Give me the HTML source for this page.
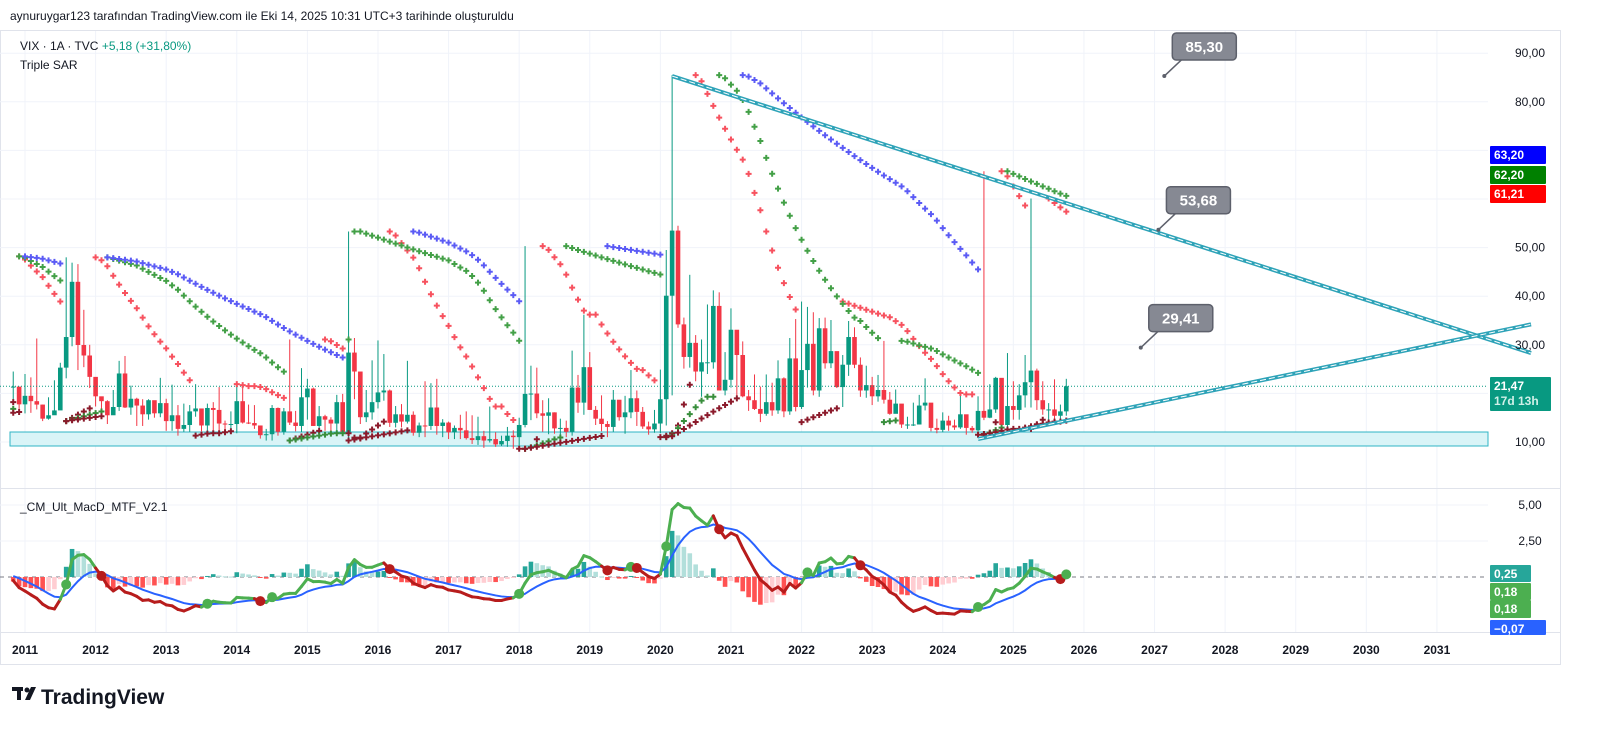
<!DOCTYPE html>
<html><head><meta charset="utf-8"><style>
html,body{margin:0;padding:0;background:#fff;width:1600px;height:745px;overflow:hidden;font-family:"Liberation Sans",sans-serif}
svg text{font-family:"Liberation Sans",sans-serif}
</style></head><body>
<svg id="c" width="1600" height="745" viewBox="0 0 1600 745" xmlns="http://www.w3.org/2000/svg">
<text x="10" y="20" font-size="12" fill="#131722">aynuruygar123 tarafından TradingView.com ile Eki 14, 2025 10:31 UTC+3 tarihinde oluşturuldu</text>
<rect x="0.5" y="30.5" width="1560" height="634" fill="none" stroke="#e0e3eb"/>
<g id="grid"></g>
<line x1="0" y1="488.5" x2="1560" y2="488.5" stroke="#e0e3eb"/>
<line x1="0" y1="632.5" x2="1560" y2="632.5" stroke="#e0e3eb"/>
<rect x="10" y="432" width="1478" height="14" fill="#d9f4f7" stroke="#30b5c4" stroke-width="1"/>
<g id="candles"></g>
<g id="sar"></g>
<g id="draw"></g>
<g id="macd"></g>
<g id="axes"></g>
<text x="20" y="50" font-size="12" fill="#131722">VIX · 1A · TVC <tspan fill="#089981">+5,18 (+31,80%)</tspan></text>
<text x="20" y="69" font-size="12" fill="#131722">Triple SAR</text>
<text x="20" y="511" font-size="12" fill="#131722">_CM_Ult_MacD_MTF_V2.1</text>
<g>
<rect x="12" y="687" width="11" height="4" fill="#131722"/><rect x="17" y="687" width="4" height="13" fill="#131722"/>
<circle cx="27" cy="690" r="2.5" fill="#131722"/><polygon points="31,687 36,687 30,700 25,700" fill="#131722"/>
<text x="41" y="704" font-size="21" font-weight="bold" fill="#131722">TradingView</text>
</g>
</svg>
<script>
// Monthly data from Jan 2009 (index 0) to Oct 2025
const closes=[44.4,46.4,44.1,36.5,28.9,26.4,25.9,26.0,25.6,30.7,24.5,21.7,
24.6,19.5,17.6,22.05,32.1,34.5,23.5,26.05,23.7,21.2,21.4,17.75,
19.5,18.4,17.7,14.8,15.5,16.5,25.3,31.6,42.96,29.96,27.8,23.4,
19.4,18.4,15.5,17.2,24.1,17.1,18.9,17.5,15.7,18.6,15.9,18.0,
14.3,15.5,12.7,13.5,16.3,16.9,13.4,17.0,16.6,13.8,13.7,13.7,
18.4,14.0,13.9,13.4,11.4,11.6,17.0,12.1,16.3,14.0,13.3,19.2,
21.0,13.3,15.3,14.6,13.8,18.2,12.1,28.4,24.5,15.1,16.1,18.2,
20.2,20.6,13.95,15.7,14.2,15.6,11.9,13.4,13.3,17.1,13.3,14.0,
11.99,12.9,12.4,10.8,10.4,11.2,10.3,10.6,9.5,10.2,11.3,11.0,
13.5,19.9,19.97,15.9,15.4,16.1,12.8,12.9,12.1,21.2,18.1,25.4,
16.6,14.8,13.7,13.1,18.7,15.1,16.1,19.0,16.2,13.2,12.6,13.8,
18.8,40.1,53.5,34.2,27.5,30.4,24.5,26.4,26.4,38.0,20.6,22.8,
33.1,27.9,19.4,18.6,16.8,15.8,18.2,16.5,23.1,16.3,27.2,17.2,
24.8,30.2,20.6,33.4,26.2,28.7,21.3,25.9,31.6,25.9,20.6,21.7,
19.4,20.7,18.7,15.8,17.9,13.6,13.6,13.6,17.5,18.1,12.9,12.5,
14.4,13.4,13.0,15.7,12.9,12.4,16.4,15.0,16.7,23.2,13.5,17.4,
16.6,19.6,22.3,24.7,18.6,16.7,16.7,15.4,16.3,21.47];
const highs=[57.4,52.6,53.3,45.6,38.1,34.2,31.1,32.4,33.4,32.8,31.3,24.9,
29.2,28.1,20.3,24,48.2,37.6,33.6,28.5,27.5,24,24.5,21,
24.0,23.3,31.3,17.7,19.2,22.7,26.3,48.0,46.9,46.6,37.2,30.0,
23.3,19.2,18.6,20.7,26.7,27.7,21.6,19.1,18.8,18.8,18.5,23.2,
18.9,21.8,17.6,17.9,17.6,21.9,16.8,17.9,18.2,21.3,14.4,16.3,
21.5,21.5,17.7,17.6,13.4,12.7,17.6,17.1,17.0,31.1,16.4,25.2,
23.0,21.2,17.4,15.6,15.1,19.7,19.9,53.3,31.4,22.6,20.7,26.8,
30.9,28.1,20.8,17.4,17.8,26.7,16.3,14.0,22.5,22.1,23.0,14.7,
14.2,13.4,15.6,16.3,15.5,15.2,12.3,17.3,12.0,11.3,13.1,12.4,
15.0,50.3,25.7,25.3,18.6,19.0,16.1,14.8,14.4,28.8,23.8,36.2,
28.5,17.4,19.6,14.3,20.7,18.5,19.5,24.8,20.6,17.2,14.2,16.6,
24.9,49.5,85.5,54.5,35.6,44.4,32.0,31.1,38.3,41.2,40.8,28.5,
37.5,31.2,30.7,20.7,23.9,21.4,23.9,22.2,26.8,23.3,31.4,35.3,
38.9,37.8,36.7,35.5,35.6,35.1,27.4,27.9,34.9,33.6,27.4,25.7,
23.4,23.8,30.8,20.3,20.8,17.0,15.2,18.1,19.7,23.1,15.6,14.8,
16.1,15.4,14.6,19.8,15.6,13.3,19.4,65.7,21.9,23.4,21.4,28.3,
22.5,21.9,27.9,60.1,25.1,22.5,18.0,22.9,17.7,23.0];
const lows=[38,38,36,34,28,25.6,23,24,23,23,22,19.5,
16.9,18.9,16.2,15.2,21.6,22.5,22.1,21.6,21.2,18.2,18.4,16.4,
15.9,16.0,16.7,14.3,14.6,15.7,16.6,23.1,29.7,24.8,25.4,21.1,
17.3,16.6,13.7,15.6,16.4,17.0,15.6,13.3,13.3,14.6,15.0,15.1,
12.3,12.3,11.3,12.1,12.1,15.2,12.2,11.8,12.4,12.4,12.2,12.5,
11.8,13.8,13.7,12.7,10.7,10.3,10.3,11.3,11.5,13.5,12.2,12.0,
14.6,13.3,12.7,12.3,11.8,11.9,11.8,10.9,18.8,13.7,14.1,14.6,
16.9,18.5,13.1,13.0,13.0,13.8,11.3,11.0,11.0,12.5,11.5,11.0,
10.6,10.6,10.6,10.5,9.6,9.4,8.8,9.9,9.0,9.2,9.0,8.6,
8.9,13.0,14.5,14.9,12.1,11.6,11.7,11.2,11.0,11.3,16.0,15.6,
16.6,13.5,12.2,11.0,12.1,14.4,11.7,14.9,13.3,12.7,11.5,11.9,
11.8,13.4,19.6,33.5,25.1,25.3,22.5,19.3,24.0,25.1,20.6,19.6,
21.2,19.3,19.2,16.4,16.6,14.1,15.4,15.4,15.8,15.1,15.6,16.3,
16.8,21.2,19.6,19.3,25.1,25.2,21.1,17.2,23.6,25.2,19.3,19.1,
17.6,18.3,17.9,15.6,16.0,12.9,12.7,13.3,13.6,16.5,12.2,11.8,
12.0,12.3,12.5,12.7,11.5,11.9,11.9,14.5,14.9,16.0,13.4,12.7,
14.6,14.6,17.1,17.1,16.6,15.6,14.2,14.4,14.5,15.4];
const yearLabels=["2011","2012","2013","2014","2015","2016","2017","2018","2019","2020","2021","2022","2023","2024","2025","2026","2027","2028","2029","2030","2031"];
const priceTicks=[10,30,40,50,80,90];
const macdTicks=[5,2.5];
const trendDown=[[134,85.3],[280,28.3]];   // [monthIndex, price]
const trendUp=[[186,10.6],[280,34.2]];
const callouts=[["85,30",85.3,218],["53,68",53.68,217],["29,41",29.41,214]];

const NS="http://www.w3.org/2000/svg";
function el(tag,attrs,parent){const e=document.createElementNS(NS,tag);for(const k in attrs)e.setAttribute(k,attrs[k]);parent.appendChild(e);return e;}
const X=i=>25+(i-24)*5.883;
const Y=p=>442-(p-10)*4.86;
const MY=v=>577-v*14.4;
const START=22;
const N=closes.length;

// grid
const grid=document.getElementById('grid');
yearLabels.forEach((l,k)=>{const x=X(24+12*k);const g=el('line',{x1:x,x2:x,y1:31,y2:632,stroke:'#f0f3fa'},grid);
});
priceTicks.concat([20,60,70]).forEach(p=>{const g=el('line',{x1:0,x2:1488,y1:Y(p),y2:Y(p),stroke:'#f0f3fa'},grid);
});
macdTicks.forEach(v=>{const g=el('line',{x1:0,x2:1488,y1:MY(v),y2:MY(v),stroke:'#f0f3fa'},grid);
});

// candles
const cg=document.getElementById('candles');
for(let i=START;i<N;i++){
  const o=closes[i-1],c=closes[i],up=c>=o,col=up?'#089981':'#f23645',x=X(i);
  const w=el('line',{x1:x,x2:x,y1:Y(highs[i]),y2:Y(lows[i]),stroke:col,'stroke-width':1},cg);
  
  const top=Y(Math.max(o,c)),bot=Y(Math.min(o,c));
  const b=el('rect',{x:x-2.3,y:top,width:4.6,height:Math.max(1,bot-top),fill:col},cg);
  
}
const pl=el('line',{x1:0,x2:1488,y1:Y(21.47),y2:Y(21.47),stroke:'#089981','stroke-dasharray':'1 2'},cg);


// SAR
function sar(af0,afMax){
  const out=[];let up=false,ep=lows[0],s=highs[0],af=af0;
  for(let i=1;i<N;i++){
    s=s+af*(ep-s);
    if(up){s=Math.min(s,lows[i-1],i>1?lows[i-2]:lows[i-1]);
      if(lows[i]<s){up=false;s=ep;ep=lows[i];af=af0;}
      else if(highs[i]>ep){ep=highs[i];af=Math.min(afMax,af+af0);}
    }else{s=Math.max(s,highs[i-1],i>1?highs[i-2]:highs[i-1]);
      if(highs[i]>s){up=true;s=ep;ep=highs[i];af=af0;}
      else if(lows[i]<ep){ep=lows[i];af=Math.min(afMax,af+af0);}
    }
    out[i]=[s,up];
  }
  return out;
}
const sg=document.getElementById('sar');
[[0.02,0.2,'#f7525f','#b2283f'],[0.01,0.1,'#43a047','#388e3c'],[0.005,0.05,'#5b5bf5','#8b1a2b']].forEach(([a,m,cd,cu],k)=>{
  const s=sar(a,m);
  for(let i=START;i<N;i++){const [v,up]=s[i];const x=X(i),y=Y(v);if(y<40)continue;
    const p=el('path',{d:`M${x-3},${y}h6M${x},${y-3}v6`,stroke:up?(k==1?cu:'#8b1a2b'):cd,'stroke-width':2},sg);
    }
});

// drawings
const dg=document.getElementById('draw');
function dbl(pts,name){const [a,b]=pts;
  const g=el('g',{},dg);
  const x1=X(a[0]),y1=Y(a[1]),x2=X(b[0]),y2=Y(b[1]);
  el('line',{x1,y1,x2,y2,stroke:'#2ea3b8','stroke-width':4},g);
  el('line',{x1,y1,x2,y2,stroke:'#ffffff','stroke-width':1,'stroke-dasharray':'6 3'},g);}
dbl(trendDown,'descending-trendline');
dbl(trendUp,'ascending-trendline');
callouts.forEach(([t,p,mi])=>{
  const px=X(mi)-2,py=Y(p),bx=px+8,by=py-43;
  const g=el('g',{},dg);
  el('line',{x1:px,y1:py,x2:bx+10,y2:by+26,stroke:'#5d606b','stroke-width':1.5},g);
  el('circle',{cx:px,cy:py,r:2,fill:'#5d606b'},g);
  el('rect',{x:bx,y:by,width:64,height:27,rx:4,fill:'#868993',stroke:'#5d606b','stroke-width':1.5},g);
  const tx=el('text',{x:bx+32,y:by+19,'font-size':15,'font-weight':'bold',fill:'#fff','text-anchor':'middle'},g);tx.textContent=t;
});

// MACD (EMAs seeded from Jan 2010)
const SEED=12;
function ema(arr,n){const k=2/(n+1);const o=[];arr.forEach((v,i)=>o.push(i<=SEED?v:v*k+o[i-1]*(1-k)));return o;}
const e12=ema(closes,12),e26=ema(closes,26);
const macd=e12.map((v,i)=>v-e26[i]);
const sig=ema(macd,9);
const mg=document.getElementById('macd');
const zl=el('line',{x1:0,x2:1488,y1:MY(0),y2:MY(0),stroke:'#787b86','stroke-dasharray':'4 4'},mg);

for(let i=START;i<N;i++){const h=macd[i]-sig[i],ph=macd[i-1]-sig[i-1];
  const col=h>=0?(h>=ph?'#26a69a':'#b2dfdb'):(h<ph?'#ff5252':'#ffcdd2');
  const y0=MY(0),y1=MY(h);
  const r=el('rect',{x:X(i)-2.3,y:Math.min(y0,y1),width:4.6,height:Math.max(1,Math.abs(y1-y0)),fill:col},mg);
  }
let sd='';for(let i=START;i<N;i++)sd+=(i==START?'M':'L')+X(i)+','+MY(sig[i]);
const sp=el('path',{d:sd,stroke:'#2962ff','stroke-width':2,fill:'none'},mg);

for(let i=START+1;i<N;i++){const col=macd[i]>=sig[i]?'#4caf50':'#b71c1c';
  const seg=el('line',{x1:X(i-1),y1:MY(macd[i-1]),x2:X(i),y2:MY(macd[i]),stroke:col,'stroke-width':3,'stroke-linecap':'round'},mg);
  }
for(let i=START+1;i<N;i++){const a=macd[i-1]-sig[i-1],b=macd[i]-sig[i];
  if((a<0)!=(b<0)){const d=el('circle',{cx:X(i),cy:MY(macd[i]),r:5,fill:b>=0?'#4caf50':'#b71c1c'},mg);
  }}

// axes
const ax=document.getElementById('axes');
yearLabels.forEach((l,k)=>{const t=el('text',{x:X(24+12*k),y:654,'font-size':12,'font-weight':'bold',fill:'#131722','text-anchor':'middle'},ax);
t.textContent=l;});
const fmt=v=>v.toFixed(2).replace('.',',');
priceTicks.forEach(p=>{const t=el('text',{x:1530,y:Y(p)+4,'font-size':12,fill:'#131722','text-anchor':'middle'},ax);
t.textContent=fmt(p);});
macdTicks.forEach(v=>{const t=el('text',{x:1530,y:MY(v)+4,'font-size':12,fill:'#131722','text-anchor':'middle'},ax);
t.textContent=fmt(v);});
function tag(y,h,w,col,lines,name){const g=el('g',{},ax);
  el('rect',{x:1490,y,width:w,height:h,fill:col,rx:1},g);
  lines.forEach((s,j)=>{const t=el('text',{x:1494,y:y+13+j*15,'font-size':12,'font-weight':'bold',fill:j?'#d0f0e8':'#fff'},g);t.textContent=s;});}
tag(146,18,56,'#0000ff',['63,20'],'sar-blue-value-tag');
tag(166,18,56,'#008000',['62,20'],'sar-green-value-tag');
tag(185,18,56,'#ff0000',['61,21'],'sar-red-value-tag');
tag(377,34,61,'#089981',['21,47','17d 13h'],'last-price-tag');
tag(565,17,41,'#26a69a',['0,25'],'macd-hist-tag');
tag(583,17,41,'#4caf50',['0,18'],'macd-value-tag');
tag(600,18,41,'#4caf50',['0,18'],'macd-value-tag-2');
tag(620,15,56,'#2962ff',['−0,07'],'macd-signal-tag');
</script>
</body></html>
